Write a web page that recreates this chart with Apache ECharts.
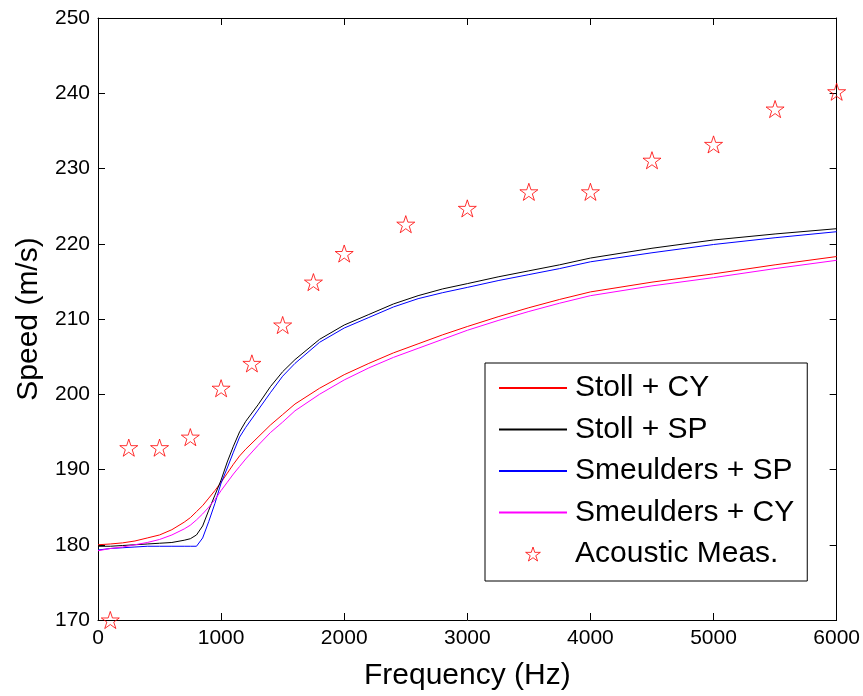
<!DOCTYPE html>
<html>
<head>
<meta charset="utf-8">
<script src="https://cdn.jsdelivr.net/npm/echarts@6/dist/echarts.min.js"></script>
<style>
html,body{margin:0;padding:0;background:#fff;}
#chart{width:863px;height:696px;}
</style>
</head>
<body>
<div id="chart"></div>
<script>
// Frequency grid for model curves (Hz)
var freqs = [0,100,200,300,400,500,600,700,750,800,850,900,950,1000,1050,1100,1150,1200,1300,1400,1500,1600,1800,2000,2200,2400,2600,2800,3000,3250,3500,3750,4000,4500,5000,5500,6000];

var stollCY = [180.0,180.1,180.25,180.5,180.9,181.3,182.0,183.0,183.6,184.4,185.2,186.2,187.2,188.3,189.5,190.7,191.8,192.7,194.3,195.9,197.3,198.7,200.8,202.6,204.1,205.5,206.7,207.9,209.0,210.3,211.5,212.6,213.6,214.9,216.0,217.2,218.3];

var stollSP = [179.8,179.8,179.9,180.0,180.1,180.2,180.3,180.6,180.8,181.3,182.5,184.6,186.6,188.6,191.0,193.1,195.0,196.4,198.6,201.0,203.0,204.6,207.3,209.2,210.6,212.0,213.1,214.0,214.7,215.6,216.4,217.2,218.1,219.4,220.5,221.3,222.0];

var smeuldersSP = [179.3,179.5,179.6,179.7,179.8,179.8,179.8,179.8,179.8,179.8,180.9,183.1,185.5,188.2,190.2,192.3,194.3,195.6,197.9,200.2,202.4,204.1,206.9,208.8,210.2,211.6,212.7,213.5,214.2,215.1,215.9,216.7,217.6,218.8,219.9,220.8,221.6];

var smeuldersCY = [179.2,179.5,179.7,180.0,180.3,180.7,181.3,182.1,182.6,183.3,184.1,185.0,186.0,187.2,188.3,189.4,190.4,191.4,193.2,194.9,196.3,197.8,200.0,201.9,203.5,204.9,206.1,207.3,208.5,209.8,211.0,212.1,213.1,214.4,215.5,216.7,217.8];

// Acoustic measurements
var measFreq = [100,250,500,750,1000,1250,1500,1750,2000,2500,3000,3500,4000,4500,5000,5500,6000];
var measSpeed = [170.0,192.9,192.9,194.3,200.8,204.1,209.2,214.9,218.7,222.6,224.7,226.9,226.9,231.1,233.2,237.9,240.2];

var xTicks = [0,1000,2000,3000,4000,5000,6000];
var yTicks = [170,180,190,200,210,220,230,240,250];

function pairs(xs, ys){ return xs.map(function(x,i){ return [x, ys[i]]; }); }

var starPath = 'path://M50 0 L61.23 34.55 L97.55 34.55 L68.17 55.9 L79.39 90.45 L50 69.1 L20.61 90.45 L31.83 55.9 L2.45 34.55 L38.77 34.55 Z';
var font = 'Liberation Sans, Arial, Helvetica, sans-serif';

var chart = echarts.init(document.getElementById('chart'), null, {renderer:'canvas'});

function lineSeries(name, ys, color){
  return {
    name: name, type: 'line', data: pairs(freqs, ys),
    showSymbol: false, symbol: 'none', smooth: false,
    lineStyle: {color: color, width: 1}, itemStyle: {color: color},
    animation: false, z: 3
  };
}

var axisCommon = {
  type: 'value',
  axisLine: {show: true, onZero: false, lineStyle: {color: '#000', width: 1}},
  axisTick: {show: true, inside: true, length: 7, lineStyle: {color: '#000', width: 1}},
  splitLine: {show: false}
};

var hiddenDot = {opacity: 0};
var option = {
  backgroundColor: '#fff',
  animation: false,
  grid: {left: 98, right: 25, top: 18, bottom: 75, containLabel: false},
  xAxis: [
    Object.assign({}, axisCommon, {
      position: 'bottom', min: 0, max: 6000, interval: 1000,
      axisLabel: {color: '#000', fontFamily: font, fontSize: 21, margin: 8,
        formatter: function(v){ return xTicks.indexOf(v) >= 0 ? String(v) : ''; }},
      name: 'Frequency (Hz)', nameLocation: 'middle', nameGap: 41,
      nameTextStyle: {color: '#000', fontFamily: font, fontSize: 30}
    }),
    Object.assign({}, axisCommon, {
      position: 'top', min: 0, max: 6000, interval: 1000,
      axisLabel: {show: false}
    })
  ],
  yAxis: [
    Object.assign({}, axisCommon, {
      position: 'left', min: 170, max: 250, interval: 10,
      axisLabel: {color: '#000', fontFamily: font, fontSize: 21, margin: 8,
        formatter: function(v){ return yTicks.indexOf(v) >= 0 ? String(v) : ''; }},
      name: 'Speed (m/s)', nameLocation: 'middle', nameGap: 53,
      nameTextStyle: {color: '#000', fontFamily: font, fontSize: 30}
    }),
    Object.assign({}, axisCommon, {
      position: 'right', min: 170, max: 250, interval: 10,
      axisLabel: {show: false}
    })
  ],
  legend: {
    show: true, orient: 'vertical', left: 485, top: 363,
    backgroundColor: '#fff', borderColor: '#000', borderWidth: 1, borderRadius: 0,
    padding: [10, 13, 12, 13],
    itemWidth: 68, itemHeight: 14, itemGap: 11.5,
    textStyle: {color: '#000', fontFamily: font, fontSize: 30, lineHeight: 30, padding: [0,0,0,3]},
    data: [
      {name: 'Stoll + CY', itemStyle: hiddenDot},
      {name: 'Stoll + SP', itemStyle: hiddenDot},
      {name: 'Smeulders + SP', itemStyle: hiddenDot},
      {name: 'Smeulders + CY', itemStyle: hiddenDot},
      {name: 'Acoustic Meas.', itemStyle: {color: 'rgba(255,255,255,0)', borderColor: '#ff0000', borderWidth: 1}}
    ]
  },
  series: [
    lineSeries('Stoll + CY', stollCY, '#ff0000'),
    lineSeries('Stoll + SP', stollSP, '#000000'),
    lineSeries('Smeulders + SP', smeuldersSP, '#0000ff'),
    lineSeries('Smeulders + CY', smeuldersCY, '#ff00ff'),
    {
      name: 'Acoustic Meas.', type: 'scatter', data: pairs(measFreq, measSpeed),
      symbol: starPath, symbolSize: 18, symbolKeepAspect: true,
      itemStyle: {color: 'rgba(255,255,255,0)', borderColor: '#ff0000', borderWidth: 1},
      animation: false, z: 4, clip: false
    }
  ]
};
chart.setOption(option);
</script>
</body>
</html>
